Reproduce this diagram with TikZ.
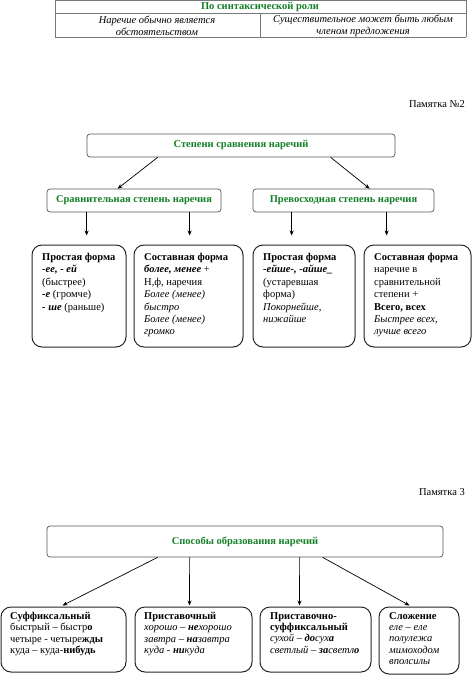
\documentclass[tikz,border=0pt]{standalone}
\usepackage{fontspec}
\setmainfont{Liberation Serif}
\usetikzlibrary{arrows.meta,calc}
\definecolor{hdgreen}{RGB}{20,128,40}
\definecolor{boxgray}{RGB}{85,85,85}
\definecolor{tabgray}{RGB}{120,120,120}
\begin{document}
\begin{tikzpicture}[x=1pt,y=-1pt,
  hbox/.style={draw=boxgray, line width=0.7pt, rounded corners=3pt, inner sep=0pt,
    font=\fontsize{10.5}{12}\selectfont\bfseries, text=hdgreen},
  lbox/.style={draw=black!85, line width=1pt, rounded corners=10pt, inner sep=0pt},
  txt/.style={anchor=north west, inner sep=0pt, align=left, font=\fontsize{10.5}{12.4}\selectfont},
  btxt/.style={anchor=north west, inner sep=0pt, align=left, font=\fontsize{10.5}{11.4}\selectfont},
  tabtxt/.style={inner sep=0pt, align=center, font=\fontsize{10.5}{12}\selectfont\itshape},
  memo/.style={anchor=east, inner sep=0pt, font=\fontsize{10.5}{12}\selectfont},
  arr/.style={-{Stealth[length=5pt,width=4pt]}, line width=0.7pt},
  tabline/.style={draw=tabgray, line width=0.6pt}
  ]
\useasboundingbox (0,0) rectangle (474,676);

% ---- table ----
\draw[tabline] (55,0.5) -- (466,0.5);
\draw[tabline] (55,13) -- (466,13);
\draw[tabline] (55,37) -- (466,37);
\draw[tabline] (55,0) -- (55,37);
\draw[tabline] (466,0) -- (466,37);
\draw[tabline] (260,13) -- (260,37);
\node[inner sep=0pt, font=\fontsize{10.5}{12}\selectfont\bfseries, text=hdgreen] (tabh) at (260,7) {По синтаксической роли};
\node[tabtxt] (tabl) at (157,25.5) {Наречие обычно является\\обстоятельством};
\node[tabtxt] (tabr) at (363,25.5) {Существительное может быть любым\\членом предложения};

% ---- Памятка 2 ----
\node[memo] (memo2) at (465,104) {Памятка №2};

\node[hbox, minimum width=308pt, minimum height=23pt] (h2) at (241,145.5) {Степени сравнения наречий};
\node[hbox, minimum width=174pt, minimum height=23pt] (s1) at (134,200.5) {Сравнительная степень наречия};
\node[hbox, minimum width=181pt, minimum height=23pt] (s2) at (343.5,200.5) {Превосходная степень наречия};

\node[lbox, minimum width=94pt, minimum height=102pt] (l1) at (79,296) {};
\node[lbox, minimum width=109pt, minimum height=102pt] (l2) at (188.5,296) {};
\node[lbox, minimum width=102pt, minimum height=102pt] (l3) at (304,296) {};
\node[lbox, minimum width=107pt, minimum height=102pt] (l4) at (417.5,296) {};

\node[txt] (t1) at (42,253) {\textbf{Простая форма}\\\textbf{\textit{-ее, - ей}}\\(быстрее)\\\textbf{\textit{-е}} (громче)\\\textbf{\textit{- ше}} (раньше)};
\node[txt] (t2) at (144,253) {\textbf{Составная форма}\\\textbf{\textit{более, менее}} +\\Н,ф, наречия\\\textit{Более (менее)}\\\textit{быстро}\\\textit{Более (менее)}\\\textit{громко}};
\node[txt] (t3) at (263,253) {\textbf{Простая форма}\\\textbf{\textit{-ейше-, -айше\_}}\\(устаревшая\\форма)\\\textit{Покорнейше,}\\\textit{нижайше}};
\node[txt] (t4) at (374,253) {\textbf{Составная форма}\\наречие в\\сравнительной\\степени +\\\textbf{Всего, всех}\\\textit{Быстрее всех,}\\\textit{лучше всего}};

\draw[arr] ([xshift=71pt]h2.south west) -- ([xshift=71pt]s1.north west);
\draw[arr] ([xshift=244pt]h2.south west) -- ([xshift=117pt]s2.north west);
\draw[arr, shorten >=9pt] ([xshift=40pt]s1.south west) -- ([xshift=40pt]s1.south west |- l1.north);
\draw[arr, shorten >=9pt] ([xshift=143pt]s1.south west) -- ([xshift=143pt]s1.south west |- l2.north);
\draw[arr, shorten >=9pt] ([xshift=39pt]s2.south west) -- ([xshift=39pt]s2.south west |- l3.north);
\draw[arr, shorten >=9pt] ([xshift=134pt]s2.south west) -- ([xshift=134pt]s2.south west |- l4.north);

% ---- Памятка 3 ----
\node[memo] (memo3) at (465,492) {Памятка 3};

\node[hbox, minimum width=396pt, minimum height=31pt] (h3) at (245,541.5) {Способы образования наречий};

\node[lbox, minimum width=125pt, minimum height=65pt] (b1) at (63.5,639.5) {};
\node[lbox, minimum width=117pt, minimum height=65pt] (b2) at (193.5,639.5) {};
\node[lbox, minimum width=111pt, minimum height=65pt] (b3) at (315.5,639.5) {};
\node[lbox, minimum width=80pt, minimum height=67pt] (b4) at (419,640.5) {};

\node[btxt] (u1) at (10,612) {\textbf{Суффиксальный}\\быстрый –  быстр\textbf{о}\\четыре - четыре\textbf{жды}\\куда – куда-\textbf{нибудь}};
\node[btxt] (u2) at (144,612) {\textbf{Приставочный}\\\textit{хорошо – \textbf{не}хорошо}\\\textit{завтра – \textbf{на}завтра}\\\textit{куда - \textbf{ни}куда}};
\node[btxt] (u3) at (270,612) {\textbf{Приставочно-}\\\textbf{суффиксальный}\\\textit{сухой – \textbf{до}сух\textbf{а}}\\\textit{светлый – \textbf{за}светл\textbf{о}}};
\node[btxt] (u4) at (389,612) {\textbf{Сложение}\\\textit{еле – еле}\\\textit{полулежа}\\\textit{мимоходом}\\\textit{вполсилы}};

\draw[arr] ([xshift=111pt]h3.south west) -- ([xshift=62pt,yshift=1pt]b1.north west);
\draw[arr] ([xshift=143pt]h3.south west) -- ([xshift=55pt,yshift=1pt]b2.north west);
\draw[arr] ([xshift=253pt]h3.south west) -- ([xshift=40pt,yshift=1pt]b3.north west);
\draw[arr] ([xshift=276pt]h3.south west) -- ([xshift=31pt,yshift=1pt]b4.north west);
\end{tikzpicture}
\end{document}
